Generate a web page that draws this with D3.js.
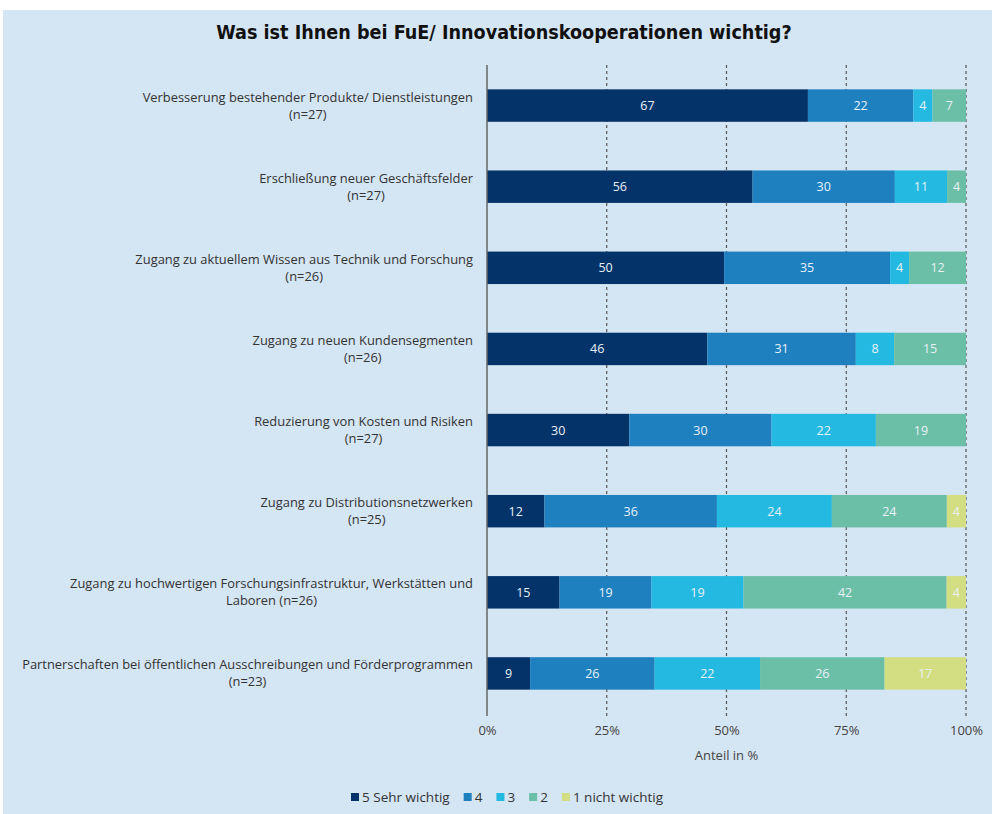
<!DOCTYPE html>
<html><head><meta charset="utf-8">
<script src="https://cdn.jsdelivr.net/npm/d3@7"></script>
<style>
html,body{margin:0;padding:0;background:#fff;}
svg{display:block;}
</style></head>
<body>
<svg id="chart" width="992" height="814"></svg>
<script>
const title = "Was ist Ihnen bei FuE/ Innovationskooperationen wichtig?";
const categories = [
  ["Verbesserung bestehender Produkte/ Dienstleistungen", "(n=27)"],
  ["Erschließung neuer Geschäftsfelder", "(n=27)"],
  ["Zugang zu aktuellem Wissen aus Technik und Forschung", "(n=26)"],
  ["Zugang zu neuen Kundensegmenten", "(n=26)"],
  ["Reduzierung von Kosten und Risiken", "(n=27)"],
  ["Zugang zu Distributionsnetzwerken", "(n=25)"],
  ["Zugang zu hochwertigen Forschungsinfrastruktur, Werkstätten und", "Laboren (n=26)"],
  ["Partnerschaften bei öffentlichen Ausschreibungen und Förderprogrammen", "(n=23)"]
];
const seriesNames = ["5 Sehr wichtig", "4", "3", "2", "1 nicht wichtig"];
const s5 = [67, 56, 50, 46, 30, 12, 15, 9];
const s4 = [22, 30, 35, 31, 30, 36, 19, 26];
const s3 = [4, 11, 4, 8, 22, 24, 19, 22];
const s2 = [7, 4, 12, 15, 19, 24, 42, 26];
const s1 = [0, 0, 0, 0, 0, 4, 4, 17];
const tickValues = [0, 25, 50, 75, 100];
const tickLabels = ["0%", "25%", "50%", "75%", "100%"];
const xAxisTitle = "Anteil in %";
const colors = ["#04336a", "#1f80c0", "#24b9e1", "#6cbfa7", "#d3dd81"];

const svg = d3.select("#chart");
const font = "'Open Sans', 'Noto Sans', sans-serif";
svg.append("rect").attr("x", 3).attr("y", 10).attr("width", 989).attr("height", 804).attr("fill", "#d4e5f3");

svg.append("text").attr("x", 504).attr("y", 39).attr("text-anchor", "middle")
  .attr("font-family", "'DejaVu Sans Condensed', 'DejaVu Sans', sans-serif").attr("font-stretch", "condensed")
  .attr("font-weight", "bold")
  .attr("font-size", 19.6).attr("fill", "#111").text(title);

const x = d3.scaleLinear().domain([0, 100]).range([487, 966]);
const y = d3.scaleBand().domain(d3.range(categories.length)).range([65, 714]).paddingInner(0.6).paddingOuter(0.3);

const series = [s5, s4, s3, s2, s1];
const rows = categories.map((c, i) => {
  const vals = series.map(s => s[i]);
  const total = d3.sum(vals);
  let cum = 0;
  return vals.map((v, k) => { const seg = {row: i, k, v, x0: cum / total * 100, x1: (cum + v) / total * 100}; cum += v; return seg; });
});

// gridlines
const grid = svg.append("g");
tickValues.slice(1).forEach(t => {
  grid.append("line").attr("x1", x(t)).attr("x2", x(t)).attr("y1", 65).attr("y2", 716)
    .attr("stroke", "#555").attr("stroke-width", 1.2).attr("stroke-dasharray", "3,3");
});

// bars
const segs = rows.flat().filter(d => d.v > 0);
svg.append("g").selectAll("rect").data(segs).join("rect")
  .attr("x", d => x(d.x0)).attr("width", d => x(d.x1) - x(d.x0))
  .attr("y", d => y(d.row)).attr("height", y.bandwidth())
  .attr("fill", d => colors[d.k]);
svg.append("g").selectAll("text").data(segs).join("text")
  .attr("x", d => (x(d.x0) + x(d.x1)) / 2).attr("y", d => y(d.row) + y.bandwidth() / 2 + 4.5)
  .attr("text-anchor", "middle").attr("font-family", font).attr("font-size", 12.5)
  .attr("fill", "#e8f1f8").text(d => d.v);

// axis line
svg.append("line").attr("x1", x(0)).attr("x2", x(0)).attr("y1", 65).attr("y2", 716)
  .attr("stroke", "#666").attr("stroke-width", 1.5);

// category labels
const lab = svg.append("g");
categories.forEach((c, i) => {
  const cy = y(i) + y.bandwidth() / 2;
  const t1 = lab.append("text").attr("font-family", font).attr("font-size", 12.9).attr("fill", "#333")
    .attr("x", 473).attr("y", cy - 4).attr("text-anchor", "end").text(c[0]);
  const w = t1.node().getComputedTextLength();
  lab.append("text").attr("font-family", font).attr("font-size", 12.9).attr("fill", "#333")
    .attr("x", 473 - w / 2).attr("y", cy + 13).attr("text-anchor", "middle").text(c[1]);
});

// x axis tick labels
const axisG = svg.append("g").attr("transform", "translate(0,726)")
  .call(d3.axisBottom(x).tickValues(tickValues).tickFormat((d, i) => tickLabels[i]).tickSize(0).tickPadding(0));
axisG.select(".domain").remove();
axisG.selectAll("text").attr("font-family", font).attr("font-size", 13).attr("fill", "#444").attr("dy", "0.71em");

svg.append("text").attr("x", x(50)).attr("y", 760).attr("text-anchor", "middle")
  .attr("font-family", font).attr("font-size", 13).attr("fill", "#444").text(xAxisTitle);

// legend
const leg = svg.append("g");
let lx = 351;
seriesNames.forEach((n, k) => {
  leg.append("rect").attr("x", lx).attr("y", 793).attr("width", 8).attr("height", 8).attr("fill", colors[k]);
  const t = leg.append("text").attr("x", lx + 11).attr("y", 802).attr("font-family", font).attr("font-size", 13.5)
    .attr("fill", "#333").text(n);
  lx += 11 + t.node().getComputedTextLength() + 14;
});
</script>
</body></html>
